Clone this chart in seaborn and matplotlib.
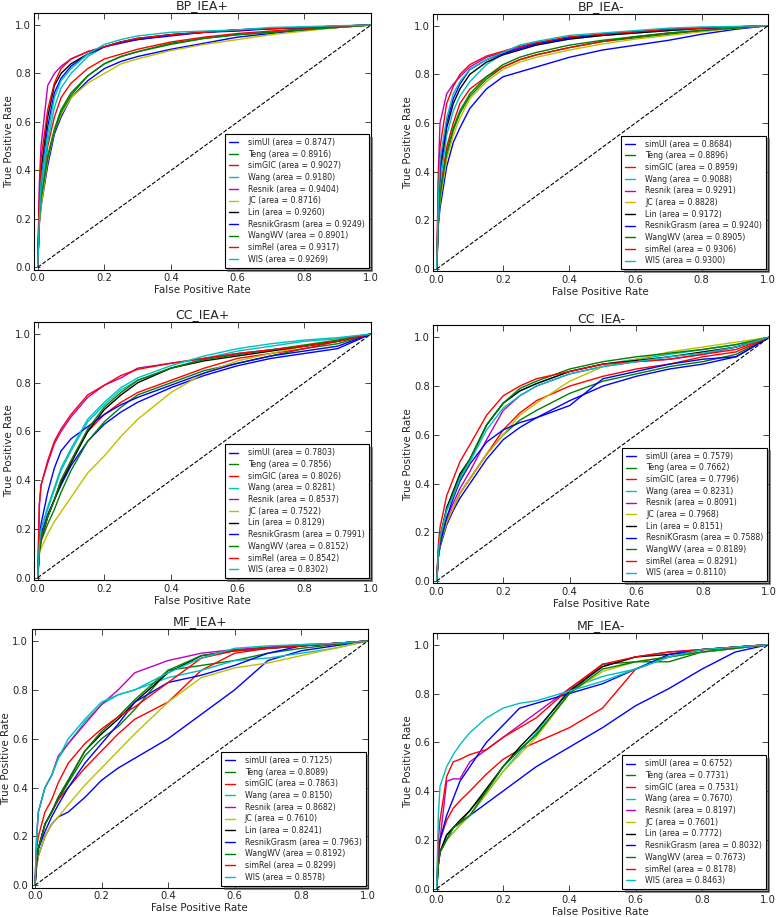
import numpy as np
import pandas as pd
import matplotlib
matplotlib.use("Agg")
import matplotlib.pyplot as plt
import seaborn as sns

# ---------------- data ----------------
METHODS = ["simUI", "Teng", "simGIC", "Wang", "Resnik", "JC", "Lin",
           "ResnikGrasm", "WangWV", "simRel", "WIS"]
COLORS = ["#0000ff", "#008000", "#ff0000", "#00bfbf", "#bf00bf", "#bfbf00",
          "#000000", "#0000ff", "#008000", "#ff0000", "#00bfbf"]

FPR = [0, 0.005, 0.01, 0.03, 0.05, 0.07, 0.1, 0.15, 0.2, 0.25, 0.3,
       0.4, 0.5, 0.6, 0.7, 0.8, 0.9, 1.0]

TITLES = ["BP_IEA+", "BP_IEA-", "CC_IEA+", "CC_IEA-", "MF_IEA+", "MF_IEA-"]

AUC_BP_PLUS = [0.8747, 0.8916, 0.9027, 0.9180, 0.9404, 0.8716, 0.9260, 0.9249, 0.8901, 0.9317, 0.9269]
AUC_BP_MINUS = [0.8684, 0.8896, 0.8959, 0.9088, 0.9291, 0.8828, 0.9172, 0.9240, 0.8905, 0.9306, 0.9300]
AUC_CC_PLUS = [0.7803, 0.7856, 0.8026, 0.8281, 0.8537, 0.7522, 0.8129, 0.7991, 0.8152, 0.8542, 0.8302]
AUC_CC_MINUS = [0.7579, 0.7662, 0.7796, 0.8231, 0.8091, 0.7968, 0.8151, 0.7588, 0.8189, 0.8291, 0.8110]
AUC_MF_PLUS = [0.7125, 0.8089, 0.7863, 0.8150, 0.8682, 0.7610, 0.8241, 0.7963, 0.8192, 0.8299, 0.8578]
AUC_MF_MINUS = [0.6752, 0.7731, 0.7531, 0.7670, 0.8197, 0.7601, 0.7772, 0.8032, 0.7673, 0.8178, 0.8463]

TPR_BP_PLUS = [
    [0, .18, .25, .42, .55, .62, .70, .77, .82, .85, .87, .90, .925, .95, .965, .98, .99, 1],
    [0, .20, .28, .46, .57, .65, .72, .79, .84, .87, .89, .925, .945, .96, .97, .98, .99, 1],
    [0, .20, .30, .50, .62, .70, .76, .82, .86, .88, .90, .93, .95, .965, .975, .985, .993, 1],
    [0, .20, .30, .52, .66, .74, .80, .87, .91, .93, .945, .96, .97, .98, .985, .99, .995, 1],
    [0, .35, .50, .75, .80, .83, .86, .89, .91, .93, .945, .96, .97, .98, .985, .99, .995, 1],
    [0, .18, .25, .44, .56, .63, .70, .76, .80, .84, .86, .895, .92, .94, .96, .975, .99, 1],
    [0, .25, .40, .62, .75, .80, .84, .88, .91, .93, .94, .96, .97, .98, .985, .99, .995, 1],
    [0, .22, .35, .58, .72, .78, .83, .88, .91, .925, .94, .955, .97, .975, .985, .99, .995, 1],
    [0, .20, .28, .45, .56, .64, .71, .79, .84, .87, .89, .92, .945, .96, .97, .98, .99, 1],
    [0, .30, .45, .65, .76, .82, .86, .89, .91, .93, .945, .96, .97, .98, .985, .99, .995, 1],
    [0, .20, .35, .55, .70, .77, .82, .88, .92, .94, .955, .97, .975, .98, .99, .993, .997, 1],
]
TPR_BP_MINUS = [
    [0, .18, .25, .42, .52, .58, .66, .74, .79, .81, .83, .87, .90, .92, .94, .965, .985, 1],
    [0, .20, .28, .46, .57, .64, .71, .78, .83, .86, .88, .91, .935, .95, .965, .98, .99, 1],
    [0, .20, .32, .50, .60, .68, .74, .79, .83, .86, .88, .91, .935, .955, .97, .98, .99, 1],
    [0, .22, .35, .55, .65, .71, .77, .84, .885, .91, .925, .945, .96, .97, .98, .985, .993, 1],
    [0, .40, .60, .72, .76, .79, .83, .87, .89, .91, .93, .95, .965, .975, .985, .99, .995, 1],
    [0, .20, .28, .45, .55, .62, .70, .77, .82, .85, .87, .90, .925, .945, .96, .975, .99, 1],
    [0, .25, .40, .58, .68, .74, .80, .85, .88, .90, .92, .945, .96, .97, .98, .99, .995, 1],
    [0, .25, .42, .60, .70, .76, .82, .86, .885, .905, .925, .95, .965, .975, .985, .99, .995, 1],
    [0, .20, .30, .48, .58, .65, .72, .79, .84, .87, .89, .92, .94, .955, .97, .98, .99, 1],
    [0, .35, .50, .68, .75, .80, .84, .875, .895, .915, .93, .955, .965, .975, .985, .99, .995, 1],
    [0, .28, .45, .62, .72, .77, .82, .86, .89, .92, .935, .96, .97, .98, .99, .995, .997, 1],
]
TPR_CC_PLUS = [
    [0, .12, .18, .26, .32, .38, .46, .56, .63, .68, .72, .78, .83, .87, .90, .92, .94, 1],
    [0, .10, .15, .22, .28, .35, .44, .56, .64, .70, .75, .80, .85, .88, .91, .94, .96, 1],
    [0, .10, .15, .25, .32, .40, .48, .60, .67, .72, .76, .81, .86, .90, .92, .94, .97, 1],
    [0, .14, .20, .28, .36, .44, .52, .64, .71, .77, .81, .86, .90, .93, .95, .97, .98, 1],
    [0, .30, .38, .47, .55, .60, .66, .74, .79, .82, .86, .88, .90, .92, .935, .95, .97, 1],
    [0, .10, .12, .18, .23, .27, .33, .43, .50, .58, .65, .76, .84, .89, .92, .95, .97, 1],
    [0, .11, .16, .25, .32, .39, .47, .60, .69, .75, .80, .86, .89, .91, .93, .95, .97, 1],
    [0, .15, .22, .35, .45, .52, .57, .62, .67, .71, .74, .79, .84, .88, .91, .93, .95, 1],
    [0, .11, .16, .25, .32, .40, .48, .61, .70, .76, .81, .86, .895, .915, .935, .955, .975, 1],
    [0, .30, .38, .48, .56, .61, .67, .75, .79, .83, .855, .88, .90, .92, .935, .95, .97, 1],
    [0, .14, .20, .29, .37, .45, .53, .65, .72, .78, .82, .87, .91, .94, .96, .975, .985, 1],
]
TPR_CC_MINUS = [
    [0, .10, .14, .23, .29, .34, .40, .50, .58, .63, .67, .74, .80, .84, .87, .89, .92, 1],
    [0, .10, .14, .24, .30, .36, .42, .52, .60, .66, .70, .77, .82, .85, .88, .90, .93, 1],
    [0, .10, .15, .25, .30, .36, .42, .52, .62, .69, .74, .80, .84, .87, .89, .92, .94, 1],
    [0, .12, .18, .30, .36, .43, .50, .64, .73, .78, .81, .86, .89, .91, .93, .95, .97, 1],
    [0, .10, .16, .26, .32, .38, .45, .58, .70, .76, .80, .85, .88, .90, .91, .93, .96, 1],
    [0, .10, .15, .24, .30, .36, .42, .52, .60, .68, .73, .82, .88, .91, .94, .96, .98, 1],
    [0, .12, .18, .30, .37, .44, .50, .64, .73, .78, .81, .86, .89, .905, .92, .94, .96, 1],
    [0, .10, .15, .26, .34, .41, .48, .57, .62, .65, .67, .72, .83, .86, .89, .91, .92, 1],
    [0, .12, .18, .29, .36, .43, .50, .64, .73, .79, .82, .87, .90, .92, .935, .95, .97, 1],
    [0, .15, .22, .35, .42, .49, .56, .68, .76, .80, .83, .86, .89, .90, .91, .93, .95, 1],
    [0, .12, .18, .29, .35, .42, .49, .62, .71, .76, .80, .85, .88, .90, .92, .935, .96, 1],
]
TPR_MF_PLUS = [
    [0, .08, .12, .20, .25, .28, .30, .36, .43, .48, .52, .60, .70, .80, .92, .96, .98, 1],
    [0, .10, .15, .25, .30, .35, .42, .53, .60, .65, .72, .88, .90, .92, .95, .97, .985, 1],
    [0, .10, .15, .25, .30, .35, .40, .48, .55, .62, .68, .75, .88, .95, .97, .98, .99, 1],
    [0, .20, .30, .40, .45, .52, .58, .67, .74, .78, .80, .85, .88, .92, .93, .95, .97, 1],
    [0, .20, .30, .40, .45, .53, .58, .66, .74, .80, .87, .92, .95, .965, .975, .985, .99, 1],
    [0, .08, .12, .20, .25, .28, .33, .41, .48, .55, .62, .75, .85, .89, .91, .94, .97, 1],
    [0, .10, .15, .25, .30, .36, .43, .55, .62, .68, .75, .87, .94, .96, .97, .98, .99, 1],
    [0, .10, .15, .22, .28, .33, .40, .50, .58, .66, .75, .83, .86, .90, .95, .98, .99, 1],
    [0, .10, .15, .25, .30, .36, .43, .55, .63, .69, .76, .88, .94, .96, .97, .98, .99, 1],
    [0, .15, .20, .30, .35, .42, .50, .58, .64, .69, .73, .83, .93, .96, .97, .98, .99, 1],
    [0, .20, .30, .40, .45, .52, .60, .68, .75, .78, .80, .87, .93, .97, .98, .985, .99, 1],
]
TPR_MF_MINUS = [
    [0, .10, .15, .22, .25, .27, .30, .35, .40, .45, .50, .58, .66, .75, .82, .90, .97, 1],
    [0, .10, .15, .20, .25, .27, .32, .40, .50, .57, .63, .80, .92, .93, .93, .97, .985, 1],
    [0, .12, .20, .28, .33, .36, .40, .47, .53, .57, .60, .66, .74, .90, .95, .98, .99, 1],
    [0, .10, .15, .20, .23, .26, .30, .39, .48, .56, .64, .82, .87, .90, .95, .97, .985, 1],
    [0, .15, .20, .44, .45, .45, .52, .57, .62, .67, .72, .82, .91, .95, .97, .98, .99, 1],
    [0, .10, .15, .20, .23, .26, .30, .39, .48, .55, .62, .80, .89, .93, .95, .97, .985, 1],
    [0, .10, .15, .22, .25, .28, .32, .41, .50, .58, .65, .81, .91, .95, .96, .98, .99, 1],
    [0, .15, .20, .30, .37, .44, .50, .60, .67, .74, .76, .80, .84, .90, .96, .98, .99, 1],
    [0, .10, .15, .20, .25, .27, .30, .40, .50, .57, .63, .80, .90, .93, .95, .97, .985, 1],
    [0, .20, .28, .46, .52, .53, .55, .57, .62, .66, .70, .82, .92, .95, .97, .98, .99, 1],
    [0, .30, .42, .50, .55, .59, .64, .70, .74, .76, .77, .81, .85, .90, .95, .98, .99, 1],
]

PANELS = [
    (TPR_BP_PLUS, AUC_BP_PLUS), (TPR_BP_MINUS, AUC_BP_MINUS),
    (TPR_CC_PLUS, AUC_CC_PLUS), (TPR_CC_MINUS, AUC_CC_MINUS),
    (TPR_MF_PLUS, AUC_MF_PLUS), (TPR_MF_MINUS, AUC_MF_MINUS),
]
NAME_OVERRIDE = {3: {"ResnikGrasm": "ResniKGrasm"}}

# ---------------- style ----------------
sns.set_style("white", {
    "xtick.direction": "in", "ytick.direction": "in",
    "xtick.top": True, "ytick.right": True,
    "xtick.bottom": True, "ytick.left": True,
    "axes.edgecolor": "black",
})
plt.rcParams["font.family"] = ["DejaVu Sans"]
plt.rcParams["xtick.major.size"] = 4
plt.rcParams["ytick.major.size"] = 4
plt.rcParams["xtick.major.width"] = 0.6
plt.rcParams["ytick.major.width"] = 0.6

W, H = 778, 917
fig = plt.figure(figsize=(W / 100, H / 100), dpi=100)

# pixel positions of data 0 and 1 for each panel: (x0, x1, y0, y1)
PIX = [
    (37.7, 371.0, 267.3, 25.0),
    (436.7, 768.0, 269.0, 25.7),
    (37.7, 371.0, 577.7, 334.0),
    (436.7, 769.3, 581.0, 337.3),
    (35.0, 367.7, 885.3, 641.0),
    (436.7, 768.3, 888.7, 644.7),
]
XL, YL = (-0.01, 1.0), (-0.01, 1.05)

for i, ((tprs, aucs), (x0, x1, y0, y1)) in enumerate(zip(PANELS, PIX)):
    ux, uy = x1 - x0, y0 - y1
    left = x0 + XL[0] * ux
    right = x0 + XL[1] * ux
    top = y0 - YL[1] * uy
    bottom = y0 - YL[0] * uy
    ax = fig.add_axes([left / W, 1 - bottom / H, (right - left) / W, (bottom - top) / H])

    rows = []
    labels = []
    for m, name in enumerate(METHODS):
        nm = NAME_OVERRIDE.get(i, {}).get(name, name)
        lab = f"{nm} (area = {aucs[m]:.4f})"
        labels.append(lab)
        for f, t in zip(FPR, tprs[m]):
            rows.append({"fpr": f, "tpr": t, "method": lab})
    df = pd.DataFrame(rows)
    sns.lineplot(data=df, x="fpr", y="tpr", hue="method", hue_order=labels,
                 palette=dict(zip(labels, COLORS)), estimator=None, sort=False,
                 linewidth=1.0, ax=ax)
    ax.plot([0, 1], [0, 1], "k--", linewidth=0.8)
    ax.set_xlim(*XL)
    ax.set_ylim(*YL)
    ax.set_xticks([0, 0.2, 0.4, 0.6, 0.8, 1.0])
    ax.set_yticks([0, 0.2, 0.4, 0.6, 0.8, 1.0])
    ax.set_xticklabels(["0.0", "0.2", "0.4", "0.6", "0.8", "1.0"])
    ax.set_yticklabels(["0.0", "0.2", "0.4", "0.6", "0.8", "1.0"])
    ax.tick_params(labelsize=7.2, pad=2.5)
    ax.set_xlabel("False Positive Rate", fontsize=7.5, labelpad=1.5)
    ax.set_ylabel("True Positive Rate", fontsize=7.5, labelpad=1)
    ax.set_title(TITLES[i], fontsize=9, pad=2.5)
    for s in ax.spines.values():
        s.set_linewidth(0.8)
    leg = ax.legend(loc="lower right", fontsize=5.7, frameon=True, fancybox=False,
                    shadow=True, framealpha=1, edgecolor="black",
                    labelspacing=0.34, handlelength=1.2, borderpad=0.5,
                    handletextpad=1.3, borderaxespad=0.25)
    leg.get_frame().set_linewidth(0.8)

fig.savefig("out.png", dpi=100)
